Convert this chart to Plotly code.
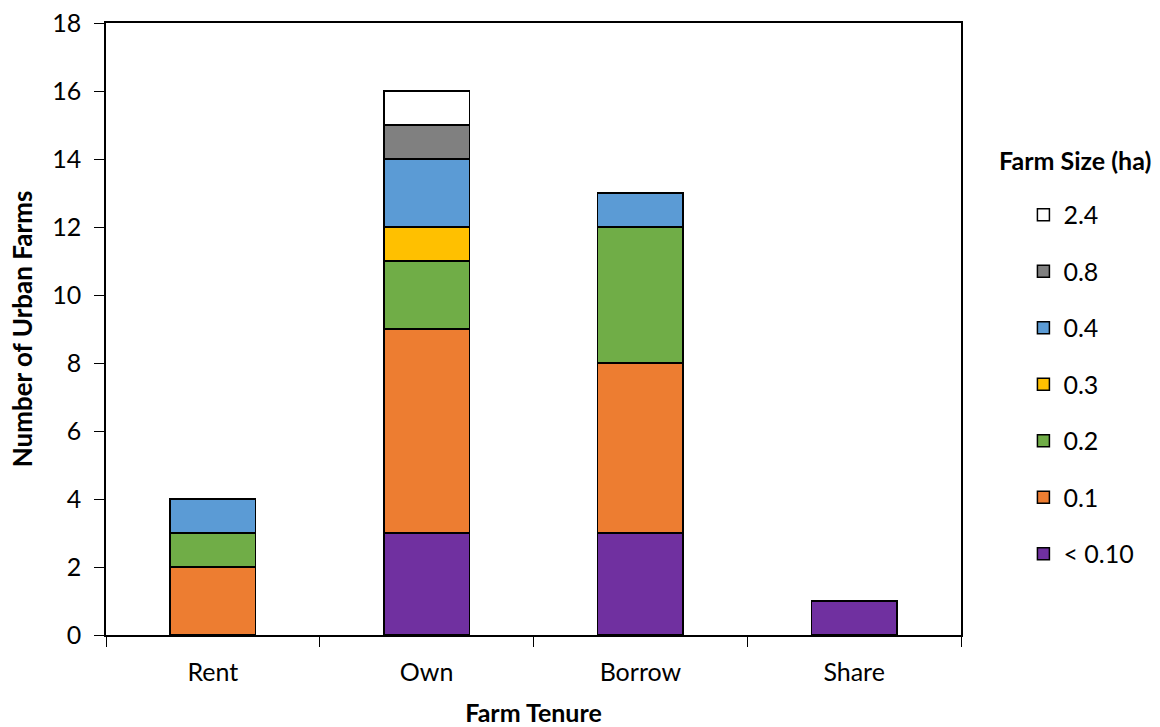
import plotly.graph_objects as go

categories = ["Rent", "Own", "Borrow", "Share"]
sizes = ["< 0.10", "0.1", "0.2", "0.3", "0.4", "0.8", "2.4"]
lt_010 = [0, 3, 3, 1]
s_01 = [2, 6, 5, 0]
s_02 = [1, 2, 4, 0]
s_03 = [0, 1, 0, 0]
s_04 = [1, 2, 1, 0]
s_08 = [0, 1, 0, 0]
s_24 = [0, 1, 0, 0]
series = [lt_010, s_01, s_02, s_03, s_04, s_08, s_24]
colors = ["#7030A0", "#ED7D31", "#70AD47", "#FFC000", "#5B9BD5", "#808080", "#FFFFFF"]

FONT = "Lato"
fig = go.Figure()
n = len(sizes)
for i, (name, vals, col) in enumerate(zip(sizes, series, colors)):
    fig.add_trace(go.Bar(
        x=categories, y=vals, name=name, legendgroup=name,
        legendrank=n - i,
        marker=dict(color=col, line=dict(color="black", width=1.5)),
        width=0.4,
    ))

fig.update_layout(
    barmode="stack",
    width=1160, height=727,
    margin=dict(l=106, r=199, t=23, b=92, autoexpand=False),
    plot_bgcolor="white", paper_bgcolor="white",
    font=dict(family=FONT, size=25, color="black"),
    showlegend=True,
    legend=dict(
        traceorder="grouped",
        x=1.073, xanchor="left", y=0.724, yanchor="top",
        font=dict(size=25), tracegroupgap=21, itemwidth=30,
        bgcolor="rgba(0,0,0,0)",
    ),
    annotations=[dict(
        text="<b>Farm Size (ha)</b>", xref="paper", yref="paper",
        x=1.133, y=0.776, xanchor="center", yanchor="middle",
        showarrow=False, font=dict(size=25, family=FONT),
    )],
)
fig.update_xaxes(
    showline=True, linecolor="black", linewidth=1.5, mirror=True,
    ticks="outside", tickson="boundaries", ticklen=10, tickcolor="black",
    ticklabelstandoff=14, automargin=False,
    title=dict(text="<b>Farm Tenure</b>", font=dict(size=25), standoff=20),
    tickfont=dict(size=25),
)
fig.update_yaxes(
    range=[0, 18], dtick=2, showgrid=False, zeroline=False,
    showline=True, linecolor="black", linewidth=1.5, mirror=True,
    ticks="outside", ticklen=10, tickcolor="black",
    ticklabelstandoff=8, automargin=False,
    title=dict(text="<b>Number of Urban Farms</b>", font=dict(size=26), standoff=12),
    tickfont=dict(size=25),
)
fig.write_html("out.html", config={"displayModeBar": False},
               post_script="document.body.style.margin='0';")
